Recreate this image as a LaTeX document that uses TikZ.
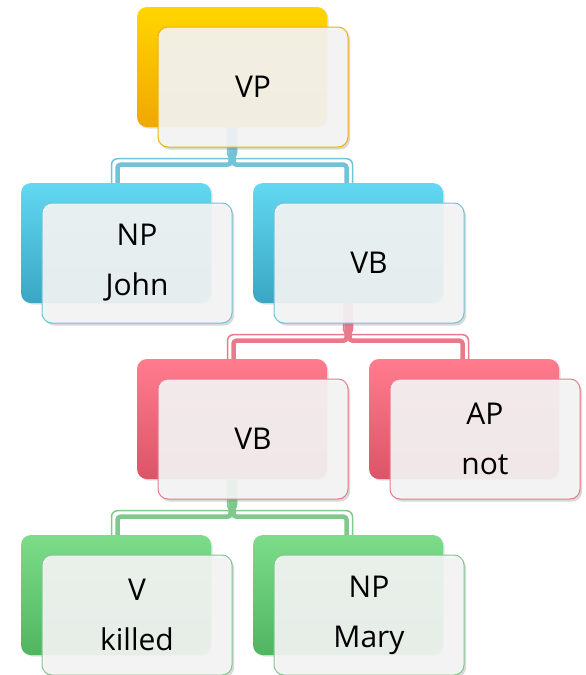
\documentclass[tikz,border=0pt]{standalone}
\usepackage{fontspec}
\setmainfont{Open Sans}
\usetikzlibrary{shadows,calc}
\definecolor{goldT}{HTML}{FFD500}
\definecolor{goldB}{HTML}{F0A800}
\definecolor{goldL}{HTML}{F0B200}
\definecolor{blueT}{HTML}{62D8F2}
\definecolor{blueB}{HTML}{3AA6C4}
\definecolor{blueL}{HTML}{72C2D8}
\definecolor{redT}{HTML}{FF7C8E}
\definecolor{redB}{HTML}{DC5467}
\definecolor{redL}{HTML}{E87A8A}
\definecolor{greenT}{HTML}{7CDC8A}
\definecolor{greenB}{HTML}{50B560}
\definecolor{greenL}{HTML}{80C98C}
\definecolor{frontfill}{HTML}{F6F6F6}
\tikzset{
  backbox/.style 2 args={rounded corners=10pt, minimum width=190pt, minimum height=120pt, inner sep=0pt,
    top color=#1, bottom color=#2, draw=none,
    drop shadow={opacity=0.25, shadow xshift=1.5pt, shadow yshift=-1.5pt}},
  frontbox/.style={rounded corners=10pt, minimum width=190pt, minimum height=120pt, inner sep=0pt,
    fill=frontfill, fill opacity=0.9, text opacity=1, draw=#1, line width=1pt, align=center,
    font=\fontsize{30}{50}\selectfont,
    drop shadow={opacity=0.3, shadow xshift=2pt, shadow yshift=-2.5pt}},
  thk/.style={draw=#1, line width=4.5pt, rounded corners=3pt},
  thn/.style={draw=#1, line width=1.5pt, rounded corners=6pt}
}
% #1 colour, #2 parent back box, #3 child back box, #4 = 1 (left child) or -1 (right child)
\newcommand\branchline[4]{%
  \draw[thk=#1] ($(#2.south)+({-1.5*#4},0)$) -- ($(#2.south)+({-1.5*#4},37.5)$) -| ($(#3.north)+({1.5*#4},0)$);
  \draw[thn=#1] ($(#2.south)+({4.5*#4},0)$) -- ($(#2.south)+({4.5*#4},31.5)$) -| ($(#3.north)+({-4.5*#4},0)$);
}
\begin{document}
\begin{tikzpicture}[x=1pt,y=-1pt]
\useasboundingbox (0,0) rectangle (586,675);
% back boxes
\node[backbox={goldT}{goldB}] (vp-b) at (232,67) {};
\node[backbox={blueT}{blueB}] (npj-b) at (116,243) {};
\node[backbox={blueT}{blueB}] (vb1-b) at (348,243) {};
\node[backbox={redT}{redB}] (vb2-b) at (232,419) {};
\node[backbox={redT}{redB}] (ap-b) at (464,419) {};
\node[backbox={greenT}{greenB}] (v-b) at (116,595) {};
\node[backbox={greenT}{greenB}] (npm-b) at (348,595) {};
% connectors
\branchline{blueL}{vp-b}{npj-b}{1}
\branchline{blueL}{vp-b}{vb1-b}{-1}
\branchline{redL}{vb1-b}{vb2-b}{1}
\branchline{redL}{vb1-b}{ap-b}{-1}
\branchline{greenL}{vb2-b}{v-b}{1}
\branchline{greenL}{vb2-b}{npm-b}{-1}
% front boxes
\node[frontbox=goldL] (vp) at (253,87) {VP};
\node[frontbox=blueL] (npj) at (137,263) {NP\\John};
\node[frontbox=blueL] (vb1) at (369,263) {VB};
\node[frontbox=redL] (vb2) at (253,439) {VB};
\node[frontbox=redL] (ap) at (485,439) {AP\\not};
\node[frontbox=greenL] (v) at (137,615) {V\\killed};
\node[frontbox=greenL] (npm) at (369,615) {NP\\Mary};
\end{tikzpicture}
\end{document}
